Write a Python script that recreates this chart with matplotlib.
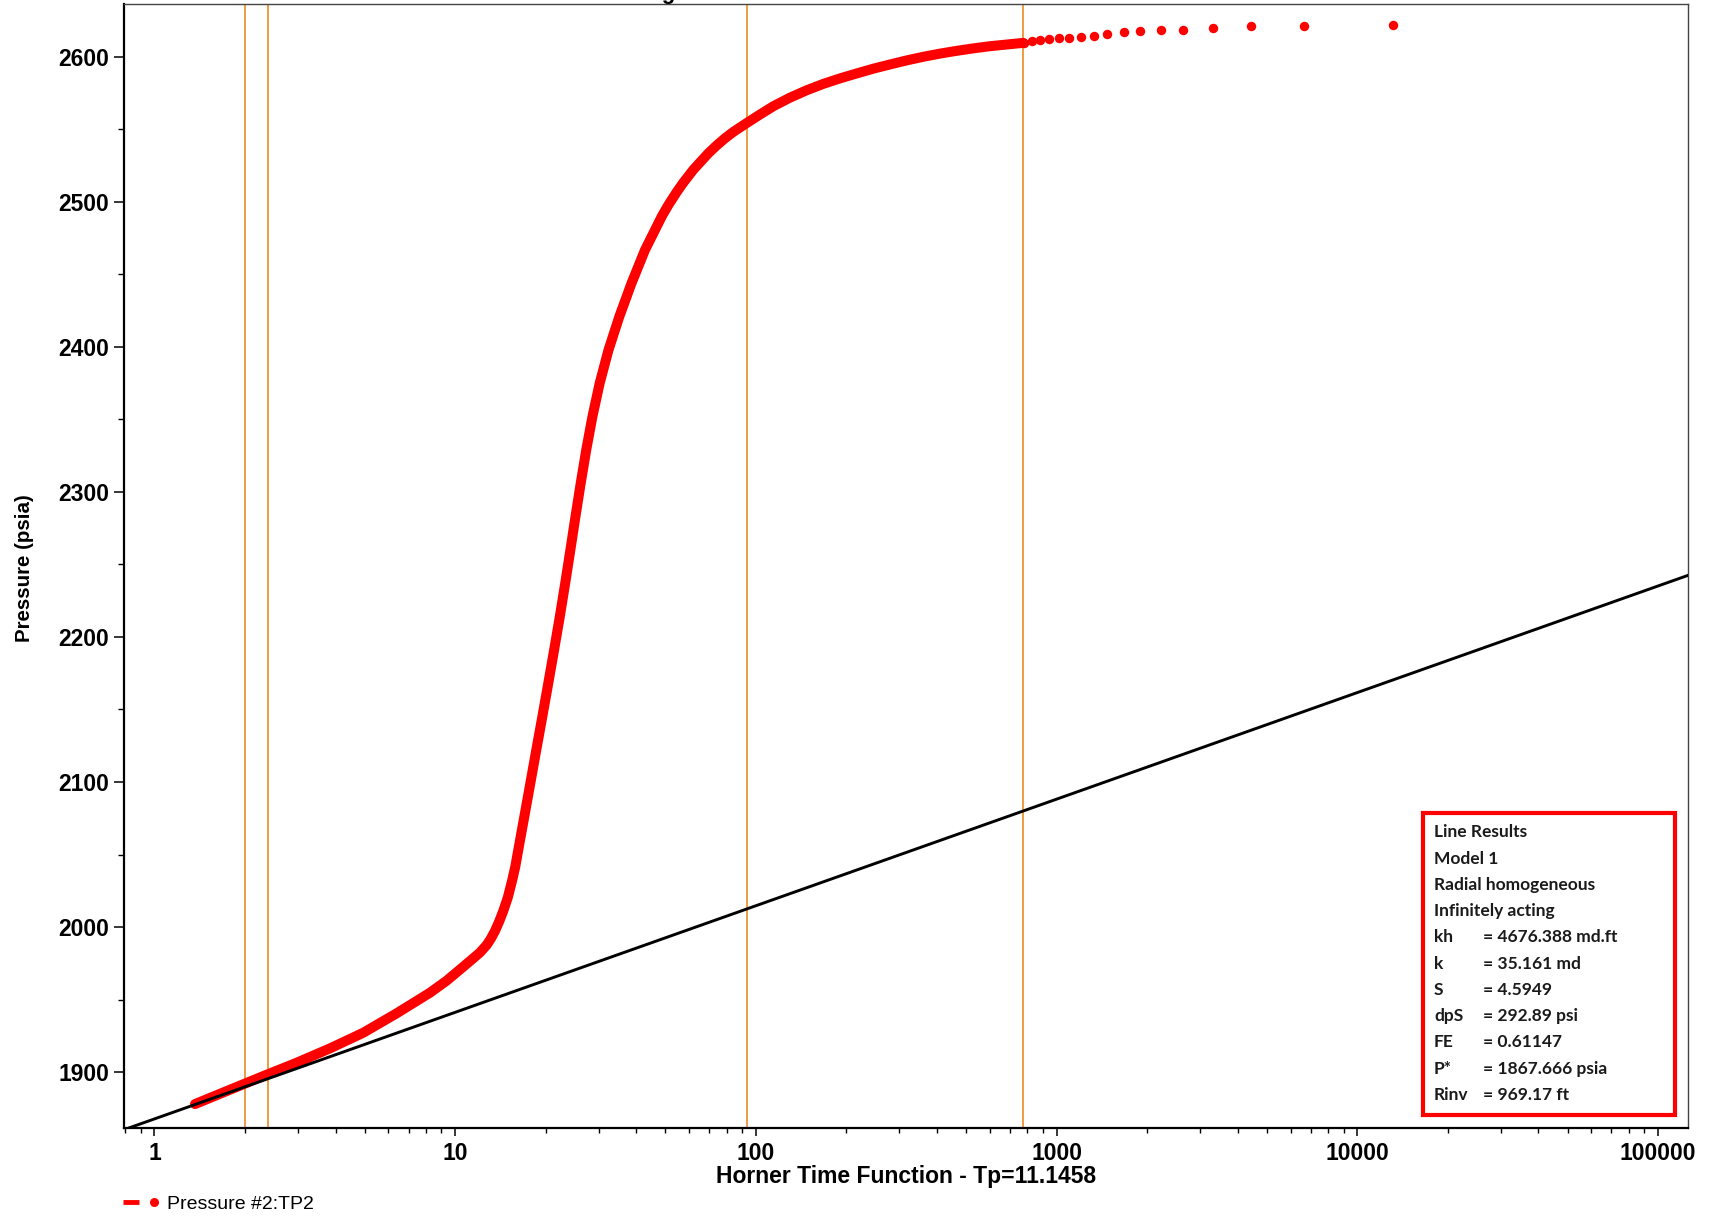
import matplotlib
matplotlib.use('Agg')
import numpy as np
import matplotlib.pyplot as plt
from matplotlib.ticker import LogLocator, MultipleLocator, FuncFormatter, NullFormatter
from matplotlib.lines import Line2D
from matplotlib.legend_handler import HandlerTuple
from matplotlib.patches import Rectangle

# ---------------- data ----------------
# dense part of the pressure build-up (Horner time, pressure psia)
dense_x = [1.364, 1.783, 2.301, 2.971, 3.834, 4.948, 6.391, 8.246, 9.370, 10.64,
           11.48, 12.09, 12.73, 13.15, 13.56, 13.98, 14.45, 14.98, 15.48, 15.85,
           16.21, 16.98, 17.78, 18.61, 19.49, 20.40, 21.33, 22.28, 23.22, 24.16,
           25.12, 26.15, 27.28, 28.60, 30.24, 32.35, 35.14, 38.58, 42.78, 48.72,
           51.13, 54.53, 57.36, 61.92, 69.44, 74.08, 78.92, 84.11, 93.21, 103.2,
           114.3, 129.8, 147.5, 167.5, 190.4, 216.3, 245.7, 279.2, 317.3, 360.4,
           409.6, 465.4, 528.5, 600.4, 775.0]
dense_p = [1877.9, 1887.8, 1897.2, 1906.4, 1916.3, 1927.1, 1940.5, 1954.7, 1963.0, 1972.6,
           1978.4, 1982.4, 1987.6, 1992.1, 1997.2, 2003.4, 2011.0, 2020.7, 2032.4, 2041.7,
           2053.1, 2076.1, 2099.1, 2122.1, 2145.0, 2168.1, 2191.0, 2214.0, 2237.0, 2260.0,
           2283.0, 2306.0, 2329.0, 2351.9, 2375.0, 2397.9, 2420.9, 2443.9, 2466.9, 2490.3,
           2497.8, 2506.8, 2513.3, 2522.2, 2533.5, 2539.0, 2543.9, 2548.3, 2554.4, 2560.3,
           2566.0, 2571.9, 2577.0, 2581.4, 2585.2, 2588.6, 2591.9, 2594.8, 2597.6, 2600.1,
           2602.3, 2604.2, 2605.9, 2607.4, 2609.7]
# early-time (large Horner time) individual samples
sparse_x = [777, 831, 881, 945.6, 1020, 1100, 1203, 1332, 1468, 1670, 1892, 2221,
            2642, 3315, 4427, 6640, 13175]
sparse_p = [2609.7, 2610.8, 2611.4, 2612.4, 2612.8, 2613.3, 2613.5, 2614.7, 2615.9,
            2617.2, 2617.7, 2618.8, 2618.8, 2619.7, 2621.1, 2621.1, 2622.3]

# semilog straight line: P* and slope (psi / log cycle)
p_star = 1867.666
slope = 73.5
line_x = [0.5, 300000]

# vertical markers (orange)
vlines_x = [2.0, 2.38, 93.6, 776]

results_header = ["Line Results", "Model 1", "Radial homogeneous", "Infinitely acting"]
results_labels = ["kh", "k", "S", "dpS", "FE", "P*", "Rinv"]
results_values = ["= 4676.388 md.ft", "= 35.161 md", "= 4.5949", "= 292.89 psi",
                  "= 0.61147", "= 1867.666 psia", "= 969.17 ft"]

# ---------------- figure ----------------
W, H = 1711, 1217
fig = plt.figure(figsize=(W / 100, H / 100), dpi=100)
ax = fig.add_axes([124 / W, 1 - 1128 / H, (1688 - 124) / W, (1128 - 4) / H])
ax.set_xscale('log')
ax.set_xlim(0.792, 125800)
ax.set_ylim(1861.4, 2636.5)

tickfont = 'Liberation Sans'
ax.xaxis.set_major_locator(LogLocator(base=10, numticks=20))
ax.xaxis.set_minor_locator(LogLocator(base=10, subs=np.arange(2, 10), numticks=50))
ax.xaxis.set_major_formatter(FuncFormatter(lambda v, p: f"{int(round(v))}"))
ax.xaxis.set_minor_formatter(NullFormatter())
ax.yaxis.set_major_locator(MultipleLocator(100))
ax.yaxis.set_minor_locator(MultipleLocator(50))
ax.yaxis.set_major_formatter(FuncFormatter(lambda v, p: f"{int(round(v))}"))

ax.tick_params(axis='x', which='major', direction='out', length=6, width=1.1, pad=4,
               labelsize=16.5, colors='black')
ax.tick_params(axis='x', which='minor', direction='out', length=3.5, width=1.0)
ax.tick_params(axis='y', which='major', direction='out', length=7.5, width=1.1, pad=3,
               labelsize=16.5)
ax.tick_params(axis='y', which='minor', direction='out', length=4, width=1.0)
for lab in ax.get_xticklabels() + ax.get_yticklabels():
    lab.set_fontfamily(tickfont)
    lab.set_fontweight('bold')

for s in ['left', 'bottom']:
    ax.spines[s].set_linewidth(1.6)
    ax.spines[s].set_color('black')
for s in ['top', 'right']:
    ax.spines[s].set_linewidth(1.0)
    ax.spines[s].set_color('#444444')

# orange vertical lines
for xv in vlines_x:
    ax.axvline(xv, color='#EE8A22', lw=1.2, zorder=2)

# pressure data
ax.plot(dense_x, dense_p, color='#FF0000', lw=7.2, solid_capstyle='round',
        solid_joinstyle='round', zorder=3)
ax.plot(sparse_x, sparse_p, 'o', color='#FF0000', ms=6.8, mec='none', zorder=3)

# straight line
lx = np.array(line_x, dtype=float)
ax.plot(lx, p_star + slope * np.log10(lx), color='black', lw=2.1, zorder=4)

# labels
fig.text(906 / W, 1 - 1176 / H, 'Horner Time Function - Tp=11.1458', ha='center', va='center',
         fontsize=16.5, fontweight='bold', family=tickfont)
fig.text(25 / W, 1 - 568 / H, 'Pressure (psia)', ha='center', va='center', rotation=90,
         fontsize=14.8, fontweight='bold', family=tickfont)
# cut-off title at top
fig.text(676 / W, 1 + 1.5 / H, 'Semi-Log', ha='right', va='baseline', fontsize=16,
         fontweight='bold', family=tickfont)

# results box
ax.add_patch(Rectangle((1423 / W, 1 - 1115 / H), (1675 - 1423) / W, (1115 - 813) / H,
                       transform=fig.transFigure, facecolor='white', edgecolor='#FF0000',
                       lw=3.0, zorder=6, clip_on=False))
boxfont = 'Lato'
row_y0 = 832.3
row_dy = 26.25
rows = [(h, None) for h in results_header] + list(zip(results_labels, results_values))
for i, (lab, val) in enumerate(rows):
    yy = 1 - (row_y0 + i * row_dy) / H
    fig.text(1434 / W, yy, lab, ha='left', va='center', fontsize=12.5, fontweight='bold',
             family=boxfont, color='#1a1a1a', zorder=7)
    if val is not None:
        fig.text(1483 / W, yy, val, ha='left', va='center', fontsize=12.5, fontweight='bold',
                 family=boxfont, color='#1a1a1a', zorder=7)

# legend
h_line = Line2D([], [], color='#FF0000', lw=3.5, solid_capstyle='butt')
h_dot = Line2D([], [], color='#FF0000', marker='o', ls='none', ms=6.5, mec='none')
leg = fig.legend(handles=[(h_line, h_dot)], labels=['Pressure #2:TP2'],
                 handler_map={tuple: HandlerTuple(ndivide=None, pad=0.35)},
                 loc='center left', bbox_to_anchor=(123 / W, 1 - 1204 / H),
                 frameon=False, borderpad=0, borderaxespad=0, handlelength=2.0,
                 handletextpad=0.25, prop={'family': tickfont, 'size': 14})

fig.savefig('out.png', dpi=100)
